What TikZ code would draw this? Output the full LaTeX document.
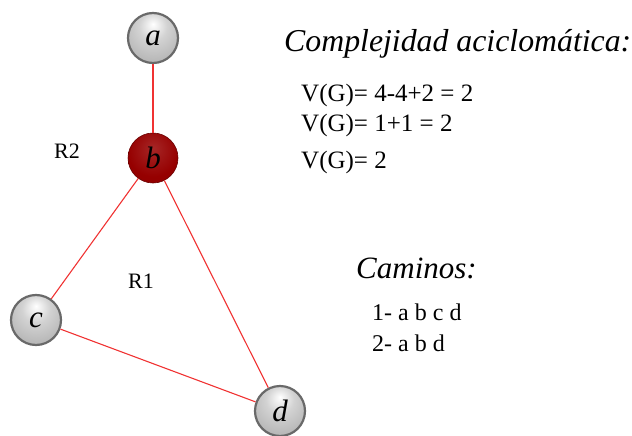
\documentclass[tikz,border=0pt]{standalone}
\usepackage{fontspec}
\setmainfont{Liberation Serif}
\usepackage{tikz}
\usepackage{xcolor}
\usetikzlibrary{positioning}
\definecolor{myred}{RGB}{240, 50, 50}
\definecolor{mydarkred}{RGB}{150, 0, 0}
\definecolor{myrim}{RGB}{105, 105, 105}
\pgfdeclareradialshading{greyball}{\pgfpoint{0bp}{14bp}}{color(0bp)=(white);
  color(14bp)=(gray!35);color(38bp)=(gray!65);color(70bp)=(gray!75)}
\pgfdeclareradialshading{redball}{\pgfpoint{0bp}{10bp}}{color(0bp)=(mydarkred!85!white);
  color(25bp)=(mydarkred);color(70bp)=(mydarkred!85!black)}

\begin{document}
\begin{tikzpicture}[x=1pt,y=-1pt,
    vtx/.style={circle,minimum size=50pt,inner sep=0pt,draw=myrim,line width=2.2pt,
      shading=greyball,font=\fontsize{31}{33}\selectfont\itshape},
    vtxsel/.style={vtx,draw=mydarkred!70!black,line width=0.6pt,shading=redball},
    link/.style={draw=myred,line width=1.1pt},
    txt/.style={anchor=base west,inner sep=0pt,font=\fontsize{24}{26}\selectfont},
    ttl/.style={anchor=base west,inner sep=0pt,font=\fontsize{31}{33}\selectfont\itshape}]
        \useasboundingbox (0,0) rectangle (632,436);
        % grafo
        \node[vtx] (a) at (153,38){a};
        \node[vtxsel] (b) at (153,158){b};
        \node[vtx] (c) at (36,320){c};
        \node[vtx] (d) at (280,411){d};
        \draw[link,line width=1.6pt] (a)--(b);
        \draw[link] (b)--(c);
        \draw[link] (b)--(d);
        \draw[link] (c)--(d);
        \node[txt,font=\fontsize{22}{24}\selectfont] (r2) at (54,158){R2};
        \node[txt,font=\fontsize{22}{24}\selectfont] (r1) at (128,288){R1};
        % textos
        \node[ttl,font=\fontsize{31.8}{34}\selectfont\itshape] (comp) at (284,52){Complejidad aciclomática:};
        \node[txt,font=\fontsize{25}{27}\selectfont] (v1) at (301,101){V(G)= 4-4+2 = 2};
        \node[txt,font=\fontsize{25}{27}\selectfont] (v2) at (301,131){V(G)= 1+1 = 2};
        \node[txt,font=\fontsize{25}{27}\selectfont] (v3) at (301,168){V(G)= 2};
        \node[ttl] (cam) at (356,278){Caminos:};
        \node[txt] (p1) at (372,320){1- a b c d};
        \node[txt] (p2) at (372,351){2- a b d};
      \end{tikzpicture}
\end{document}
